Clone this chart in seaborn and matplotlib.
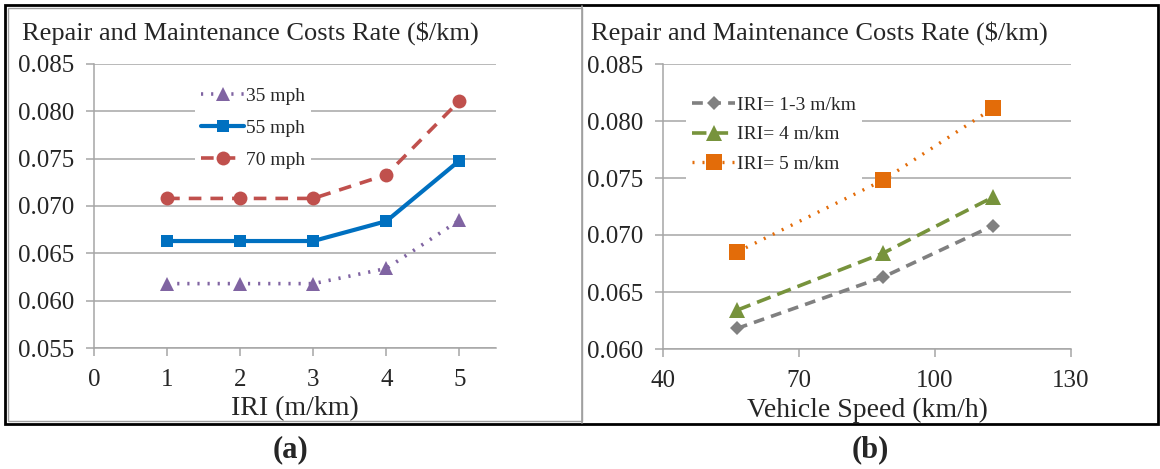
import matplotlib
matplotlib.use("Agg")
import matplotlib.pyplot as plt
from matplotlib.patches import Rectangle
from matplotlib.lines import Line2D
import seaborn as sns

# ---- data ----
iri = [1, 2, 3, 4, 5]
cost_35mph = [0.0618, 0.0618, 0.0618, 0.0634, 0.0685]
cost_55mph = [0.0663, 0.0663, 0.0663, 0.0684, 0.0748]
cost_70mph = [0.0708, 0.0708, 0.0708, 0.0733, 0.0811]

speed_kmh = [56.3, 88.5, 112.7]
cost_iri_1_3 = [0.0618, 0.0663, 0.0708]
cost_iri_4 = [0.0634, 0.0684, 0.0733]
cost_iri_5 = [0.0685, 0.0748, 0.0811]

left_yticks = [0.055, 0.060, 0.065, 0.070, 0.075, 0.080, 0.085]
right_yticks = [0.060, 0.065, 0.070, 0.075, 0.080, 0.085]
left_xticks = [0, 1, 2, 3, 4, 5]
right_xticks = [40, 70, 100, 130]

TITLE = "Repair and Maintenance Costs Rate ($/km)"

sns.set_style("white")
plt.rcParams['font.family'] = ['Liberation Serif', 'DejaVu Serif']
plt.rcParams['mathtext.default'] = 'regular'

W, H = 1160, 469
fig = plt.figure(figsize=(W / 100, H / 100), dpi=100)

ax_a = fig.add_axes([94 / W, 1 - 348 / H, 402 / W, 284 / H])
ax_b = fig.add_axes([663 / W, 1 - 349 / H, 408 / W, 285 / H])

grid_c = '#a6a6a6'


def style_axes(ax, yticks, xticks):
    ax.set_yticks(yticks)
    ax.set_yticklabels([f"{v:.3f}" for v in yticks])
    ax.set_xticks(xticks)
    ax.set_xticklabels([str(v) for v in xticks])
    ax.yaxis.grid(True, color=grid_c, lw=1.1)
    ax.xaxis.grid(False)
    ax.set_axisbelow(True)
    for s in ['top', 'right']:
        ax.spines[s].set_visible(False)
    for s in ['left', 'bottom']:
        ax.spines[s].set_color(grid_c)
        ax.spines[s].set_linewidth(1.1)
    ax.tick_params(axis='y', direction='out', length=6, width=1.1, color=grid_c,
                   labelsize=18, pad=8, left=True)
    ax.tick_params(axis='x', direction='out', length=6, width=1.1, color=grid_c,
                   labelsize=18, pad=9, bottom=True)


# ---- panel (a) ----
sns.lineplot(x=iri, y=cost_35mph, ax=ax_a, color='#8064A2', marker='^', markersize=10,
             linestyle=(0, (0.6, 2.2)), lw=2.6, markeredgewidth=0, label='35 mph')
sns.lineplot(x=iri, y=cost_55mph, ax=ax_a, color='#0070C0', marker='s', markersize=9,
             linestyle='-', lw=3.0, markeredgewidth=0, label='55 mph')
sns.lineplot(x=iri, y=cost_70mph, ax=ax_a, color='#C0504D', marker='o', markersize=10,
             linestyle=(0, (3.5, 2.5)), lw=2.6, markeredgewidth=0, label='70 mph')
ax_a.set_xlim(0, 5.5)
ax_a.set_ylim(0.055, 0.085)
style_axes(ax_a, left_yticks, left_xticks)
ax_a.set_xlabel("IRI (m/km)", fontsize=20, labelpad=4)
ax_a.set_ylabel("")
ax_a.legend(loc='center', bbox_to_anchor=(0.396, 0.775), frameon=True, facecolor='white',
            edgecolor='none', framealpha=1, fontsize=14, handlelength=2.2,
            handletextpad=0.1, labelspacing=0.75, borderpad=0.3, fancybox=False)

# ---- panel (b) ----
sns.lineplot(x=speed_kmh, y=cost_iri_1_3, ax=ax_b, color='#808080', marker='D', markersize=7,
             linestyle=(0, (3, 2)), lw=2.6, markeredgewidth=0, label='IRI= 1-3 m/km')
sns.lineplot(x=speed_kmh, y=cost_iri_4, ax=ax_b, color='#77933C', marker='^', markersize=11,
             linestyle=(0, (4, 2)), lw=2.6, markeredgewidth=0, label='IRI= 4 m/km')
sns.lineplot(x=speed_kmh, y=cost_iri_5, ax=ax_b, color='#E36C09', marker='s', markersize=11,
             linestyle=(0, (0.6, 2.4)), lw=2.4, markeredgewidth=0, label='IRI= 5 m/km')
ax_b.set_xlim(40, 130)
ax_b.set_ylim(0.060, 0.085)
style_axes(ax_b, right_yticks, right_xticks)
ax_b.set_xlabel("Vehicle Speed (km/h)", fontsize=20, labelpad=4)
ax_b.set_ylabel("")
ax_b.legend(loc='center', bbox_to_anchor=(0.272, 0.752), frameon=True, facecolor='white',
            edgecolor='none', framealpha=1, fontsize=14, handlelength=2.2,
            handletextpad=0.1, labelspacing=0.6, borderpad=0.3, fancybox=False)

# ---- titles and panel letters ----
fig.text(22 / W, 1 - 33 / H, TITLE, fontsize=19, ha='left', va='center')
fig.text(591 / W, 1 - 33 / H, TITLE, fontsize=19, ha='left', va='center')
fig.text(290 / W, 1 - 450 / H, "(a)", fontsize=22, fontweight='bold', ha='center', va='center')
fig.text(870 / W, 1 - 450 / H, "(b)", fontsize=22, fontweight='bold', ha='center', va='center')

# ---- frames ----
fig.add_artist(Rectangle((8 / W, 1 - 421 / H), 574 / W, 413 / H, transform=fig.transFigure,
                         fill=False, edgecolor='#a0a0a0', lw=1.0))
fig.add_artist(Line2D([582 / W, 582 / W], [1 - 423 / H, 1 - 6 / H], transform=fig.transFigure,
                      color='#a0a0a0', lw=1.2))
fig.add_artist(Rectangle((5 / W, 1 - 424 / H), 1153 / W, 419 / H, transform=fig.transFigure,
                         fill=False, edgecolor='black', lw=2.0))

fig.savefig("out.png", dpi=100)
